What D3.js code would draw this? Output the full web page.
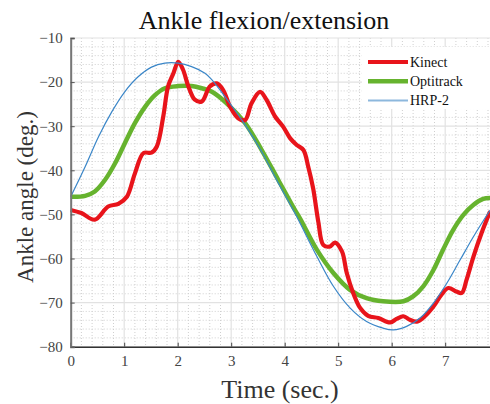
<!DOCTYPE html>
<html>
<head>
<meta charset="utf-8">
<script src="https://cdn.jsdelivr.net/npm/d3@7"></script>
<style>
  html, body { margin: 0; padding: 0; background: #fff; }
  svg { display: block; }
  svg text { font-family: "Liberation Serif", "Times New Roman", serif; }
</style>
</head>
<body>
<svg id="chart" width="490" height="404"></svg>
<script>
// Time samples (s) and ankle angle (deg) for each source
const kinectTime = [0, 0.2, 0.45, 0.7, 0.89, 1.05, 1.2, 1.36, 1.51, 1.61, 1.73, 1.82, 1.92, 2.01, 2.1, 2.2, 2.32, 2.45, 2.6, 2.73, 2.85, 2.98, 3.13, 3.26, 3.38, 3.54, 3.66, 3.82, 3.97, 4.1, 4.22, 4.35, 4.44, 4.53, 4.63, 4.72, 4.84, 4.94, 5.07, 5.16, 5.28, 5.41, 5.56, 5.75, 5.97, 6.09, 6.22, 6.34, 6.47, 6.62, 6.78, 6.93, 7.06, 7.21, 7.31, 7.4, 7.53, 7.68, 7.84];
const kinectAngle = [-49, -49.7, -51.2, -48.2, -47.6, -46, -40.7, -36.1, -36, -34.6, -27.8, -21, -18, -15.4, -17.2, -21, -24, -24.4, -21, -20.3, -21.8, -25.6, -28.2, -28.6, -24.8, -22.2, -24, -27.8, -30.1, -32.7, -34.2, -35.4, -39.2, -44, -51.8, -56.9, -57.3, -56.4, -58.4, -63.3, -67.8, -71.2, -73, -73.5, -74.5, -73.7, -73.1, -73.9, -74.3, -73.1, -70.9, -68.2, -66.7, -67.5, -67.8, -64.8, -59.5, -54.2, -49.3];

const optiTime = [0, 0.27, 0.45, 0.64, 0.83, 1.01, 1.2, 1.39, 1.58, 1.76, 2.01, 2.26, 2.45, 2.64, 2.95, 3.26, 3.57, 3.88, 4.19, 4.29, 4.6, 4.91, 5.22, 5.53, 5.84, 6.22, 6.4, 6.59, 6.78, 6.96, 7.15, 7.34, 7.53, 7.71, 7.84];
const optiAngle = [-46, -45.8, -44.8, -42.2, -38.4, -33.9, -29.3, -25.6, -22.9, -21.4, -20.9, -20.9, -21.4, -22.2, -25.2, -29.3, -35.4, -42.2, -49, -51, -58, -63.3, -67.1, -69, -69.7, -69.7, -68.6, -66.3, -62.6, -58, -53.5, -50.1, -47.8, -46.5, -46.3];

const hrpTime = [0, 0.27, 0.52, 0.77, 1.01, 1.26, 1.51, 1.76, 2.01, 2.26, 2.51, 2.64, 2.95, 3.26, 3.57, 3.88, 4.19, 4.6, 4.91, 5.22, 5.53, 5.84, 6.03, 6.28, 6.53, 6.78, 7.03, 7.28, 7.53, 7.84];
const hrpAngle = [-46, -39.2, -32.4, -26.7, -22.2, -18.8, -16.6, -15.7, -15.7, -16.5, -18, -19.5, -24.4, -29.7, -35.8, -42.9, -49.7, -59.5, -66.3, -71.2, -74.3, -75.8, -76.2, -75.4, -73.5, -70.1, -65.6, -60.3, -55, -49];

const xTicks = [0, 1, 2, 3, 4, 5, 6, 7];
const yTicks = [-10, -20, -30, -40, -50, -60, -70, -80];
const seriesNames = ["Kinect", "Optitrack", "HRP-2"];

const serif = "'Liberation Serif', 'Times New Roman', serif";
const svg = d3.select("#chart");
const plotLeft = 70.7, plotTop = 38, plotBottom = 346.7;
const x = d3.scaleLinear().domain([0, 8]).range([plotLeft, plotLeft + 8 * 53.5]);
const y = d3.scaleLinear().domain([-80, -10]).range([plotBottom, plotTop]);
const xEnd = x(8);

// Minor grid (dotted) every 0.2 s and 2 deg
const minorX = d3.range(0, 8.001, 0.2).filter(v => Math.abs(v - Math.round(v)) > 1e-6);
const minorY = d3.range(-80, -9.99, 2).filter(v => v % 10 !== 0);
const grid = svg.append("g");
grid.selectAll(".mx").data(minorX).join("line")
  .attr("x1", d => x(d)).attr("x2", d => x(d)).attr("y1", plotTop).attr("y2", plotBottom)
  .attr("stroke", "#cfcfcf").attr("stroke-width", 1).attr("stroke-dasharray", "1,2");
grid.selectAll(".my").data(minorY).join("line")
  .attr("x1", plotLeft).attr("x2", xEnd).attr("y1", d => y(d)).attr("y2", d => y(d))
  .attr("stroke", "#cfcfcf").attr("stroke-width", 1).attr("stroke-dasharray", "1,2");
// Major grid
grid.selectAll(".gx").data(xTicks.concat([8])).join("line")
  .attr("x1", d => x(d)).attr("x2", d => x(d)).attr("y1", plotTop).attr("y2", plotBottom)
  .attr("stroke", "#e2e2e2").attr("stroke-width", 1.2);
grid.selectAll(".gy").data(yTicks).join("line")
  .attr("x1", plotLeft).attr("x2", xEnd).attr("y1", d => y(d)).attr("y2", d => y(d))
  .attr("stroke", "#e2e2e2").attr("stroke-width", 1.2);

// Curves
const line = d3.line().x(d => x(d[0])).y(d => y(d[1])).curve(d3.curveCatmullRom.alpha(0.5));
const zip = (t, v) => t.map((ti, i) => [ti, v[i]]);
const plot = svg.append("g");
plot.append("path").attr("d", line(zip(optiTime, optiAngle)))
  .attr("fill", "none").attr("stroke", "#66b32e").attr("stroke-width", 4.5).attr("stroke-linejoin", "round");
plot.append("path").attr("d", line(zip(kinectTime, kinectAngle)))
  .attr("fill", "none").attr("stroke", "#e8141b").attr("stroke-width", 4.2).attr("stroke-linejoin", "round");
plot.append("path").attr("d", line(zip(hrpTime, hrpAngle)))
  .attr("fill", "none").attr("stroke", "#3a86c8").attr("stroke-width", 1.2);

// Axes
const xAxis = d3.axisBottom(x).tickValues(xTicks).tickSize(-4).tickPadding(9).tickFormat(d3.format("d"));
const gx = svg.append("g").attr("transform", `translate(0,${plotBottom})`).call(xAxis);
gx.select(".domain").attr("stroke", "#333").attr("stroke-width", 1.5);
gx.selectAll(".tick line").attr("stroke", "#444");
gx.selectAll(".tick text").attr("fill", "#444").attr("font-family", serif)
  .style("font-family", serif).style("font-size", "15px");

const yAxis = d3.axisLeft(y).tickValues(yTicks).tickSize(-4).tickPadding(8).tickFormat(d3.format("d"));
const gy = svg.append("g").attr("transform", `translate(${plotLeft},0)`).call(yAxis);
gy.select(".domain").attr("stroke", "#777").attr("stroke-width", 2);
gy.selectAll(".tick line").attr("stroke", "#555");
gy.selectAll(".tick text").attr("fill", "#444").attr("font-family", serif)
  .style("font-family", serif).style("font-size", "15px");

// Legend
const legend = svg.append("g");
legend.append("rect").attr("x", 362).attr("y", 47).attr("width", 130).attr("height", 62).attr("fill", "#fff");
const legendColors = ["#e8141b", "#66b32e", "#8db8dd"];
const legendWidths = [4.2, 4.5, 2];
seriesNames.forEach((name, i) => {
  const ly = 62 + i * 19.2;
  legend.append("line").attr("x1", 368).attr("x2", 408).attr("y1", ly).attr("y2", ly)
    .attr("stroke", legendColors[i]).attr("stroke-width", legendWidths[i]);
  legend.append("text").attr("x", 410).attr("y", ly + 4.5).attr("font-size", 14)
    .attr("fill", "#111").text(name);
});

// Titles
svg.append("text").attr("x", 264).attr("y", 29).attr("text-anchor", "middle")
  .attr("font-size", 26).attr("fill", "#111").text("Ankle flexion/extension");
svg.append("text").attr("x", 280).attr("y", 398).attr("text-anchor", "middle")
  .attr("font-size", 26).attr("fill", "#333").text("Time (sec.)");
svg.append("text").attr("transform", "translate(33,197) rotate(-90)").attr("text-anchor", "middle")
  .attr("font-size", 23).attr("fill", "#333").text("Ankle angle (deg.)");
</script>
</body>
</html>
